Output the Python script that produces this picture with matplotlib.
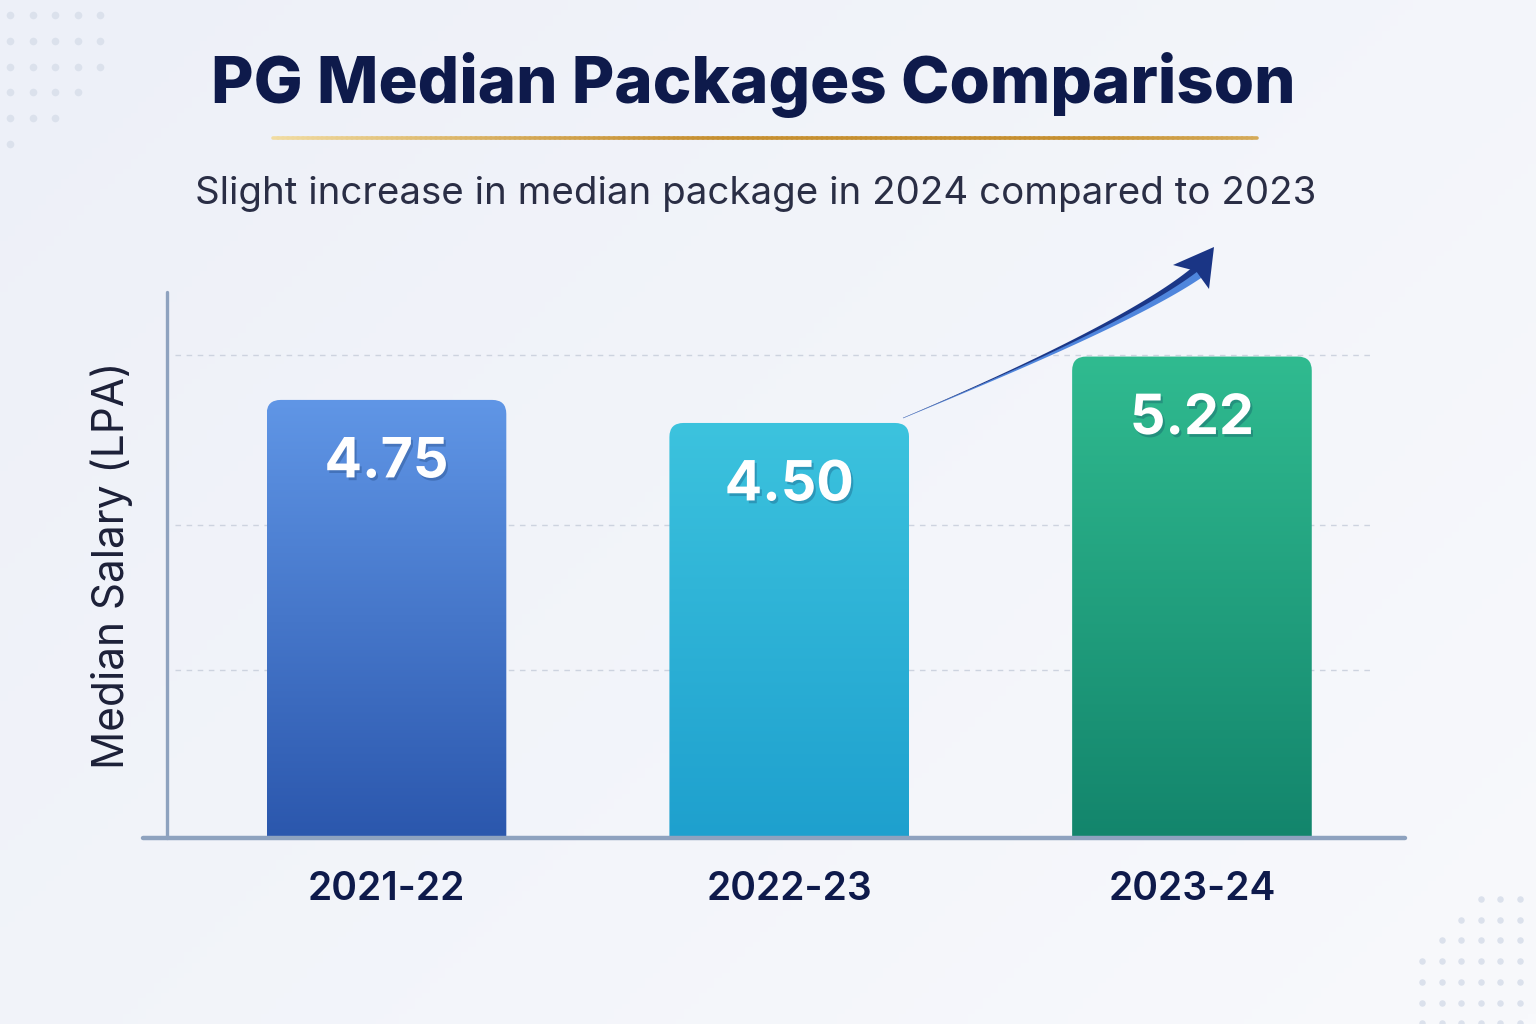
import numpy as np
import matplotlib.pyplot as plt
import matplotlib.patheffects as pe
from matplotlib.patches import FancyBboxPatch, Polygon
from matplotlib.colors import LinearSegmentedColormap, to_rgb
from matplotlib.collections import LineCollection

# data
years = ["2021-22", "2022-23", "2023-24"]
median_lpa = [4.75, 4.50, 5.22]
value_labels = ["4.75", "4.50", "5.22"]
grid_levels = [1.82, 3.39, 5.24]

top_colors = ["#6096e6", "#3cc3de", "#30bb90"]
bottom_colors = ["#2b57ad", "#1ea0ce", "#13856c"]

title = "PG Median Packages Comparison"
subtitle = "Slight increase in median package in 2024 compared to 2023"
ylabel = "Median Salary (LPA)"

plt.rcParams["font.family"] = ["Inter", "DejaVu Sans"]

W, H = 1536, 1024
fig = plt.figure(figsize=(W / 100, H / 100), dpi=100)

# background in pixel coords
bg = fig.add_axes([0, 0, 1, 1], zorder=0)
bg.set_xlim(0, W)
bg.set_ylim(H, 0)
bg.axis("off")
gx, gy = np.meshgrid(np.linspace(0, 1, 200), np.linspace(0, 1, 200))
bg_cmap = LinearSegmentedColormap.from_list("bg", ["#edf0f8", "#f8f9fc"])
bg.imshow((gx * 0.6 + gy * 0.4), extent=[0, W, H, 0], cmap=bg_cmap, aspect="auto", zorder=0)

# decorative dots
dot_color = "#dbe1ec"
for r, n in enumerate([5, 5, 5, 4, 3, 1]):
    bg.scatter([10 + 22.5 * i for i in range(n)], [15 + 25.8 * r] * n, s=30, color=dot_color, lw=0, zorder=1)
for r, start in enumerate([3, 2, 1, 0, 0, 0, 0]):
    xs = [1422 + 19.5 * i for i in range(start, 7)]
    bg.scatter(xs, [899 + 20.7 * r] * len(xs), s=22, color=dot_color, lw=0, zorder=1)

# gold rule under title
xs = np.linspace(273, 1257, 200)
segs = [[(xs[i], 138), (xs[i + 1], 138)] for i in range(len(xs) - 1)]
c0, c1 = np.array(to_rgb("#f1dca2")), np.array(to_rgb("#c68f30"))
t = np.linspace(0, 1, len(segs))
mix = np.clip(np.sin(t * np.pi * 0.8) * 1.1, 0, 1)
cols = [c0 * (1 - m) + c1 * m for m in mix]
bg.add_collection(LineCollection(segs, colors=cols, linewidths=2.6, capstyle="round", zorder=2))

# main axes
ax = fig.add_axes([143 / W, 1 - 838 / H, (1405 - 143) / W, (838 - 292) / H], zorder=1)
ax.set_facecolor("none")
for s in ax.spines.values():
    s.set_visible(False)

x = np.arange(len(years))
bars = ax.bar(x, median_lpa, width=0.595, color="none", zorder=2)
ax.hlines(grid_levels, -0.525, 2.442, colors="#cdd3df", linestyles=(0, (4, 4)), linewidth=1, zorder=1)

for b, top, bot in zip(bars, top_colors, bottom_colors):
    x0, w, h = b.get_x(), b.get_width(), b.get_height()
    patch = FancyBboxPatch((x0, -0.5), w, h + 0.5, boxstyle="round,pad=0,rounding_size=0.035",
                           mutation_aspect=4.33, facecolor="none", edgecolor="none")
    ax.add_patch(patch)
    cmap = LinearSegmentedColormap.from_list("bar", [bot, top])
    img = ax.imshow(np.linspace(0, 1, 256).reshape(-1, 1), extent=[x0, x0 + w, 0, h], origin="lower",
                    cmap=cmap, aspect="auto", zorder=2)
    img.set_clip_path(patch)

for xi, v, lbl in zip(x, median_lpa, value_labels):
    ax.annotate(lbl, (xi, v), xytext=(0, -45), textcoords="offset points", ha="center", va="center",
                color="white", fontsize=40, fontweight="bold", zorder=4,
                path_effects=[pe.withSimplePatchShadow(offset=(1.5, -2), shadow_rgbFace="#0b2a55", alpha=0.25)])

ax.set_xlim(-0.6046, 2.529)
ax.set_ylim(0, 5.92)

# axis lines
ax.plot([0, 1], [0, 0], transform=ax.transAxes, color="#8ea2bf", lw=3.2, solid_capstyle="round", clip_on=False, zorder=3)
ax.plot([0.019, 0.019], [0, 1], transform=ax.transAxes, color="#8ea2bf", lw=2.4, solid_capstyle="round", clip_on=False, zorder=3)

ax.set_xticks(x, years)
ax.set_yticks([])
ax.tick_params(axis="x", length=0, pad=24, labelsize=28, labelcolor="#0e1a4b")
for tl in ax.get_xticklabels():
    tl.set_fontweight("semibold")
ax.set_ylabel(ylabel, fontsize=30.5, color="#1c2038", labelpad=7)

fig.text(753 / W, 1 - 85 / H, title, ha="center", va="center", fontsize=47, fontweight="heavy", color="#0e1a4b")
fig.text(756 / W, 1 - 194 / H, subtitle, ha="center", va="center", fontsize=27.7, color="#2a2e45")

# trend arrow overlay
ov = fig.add_axes([0, 0, 1, 1], zorder=3)
ov.set_xlim(0, W)
ov.set_ylim(H, 0)
ov.axis("off")
p0, p1, p2 = np.array([903, 418]), np.array([1130, 322.5]), np.array([1197, 270])
u = np.linspace(0, 1, 80)[:, None]
pts = (1 - u) ** 2 * p0 + 2 * (1 - u) * u * p1 + u ** 2 * p2
tan = 2 * (1 - u) * (p1 - p0) + 2 * u * (p2 - p1)
tan = tan / np.linalg.norm(tan, axis=1, keepdims=True)
nrm = np.column_stack([-tan[:, 1], tan[:, 0]])
wid = (0.4 + 9.5 * u[:, 0] ** 1.3)[:, None]
# lighter underside strip, then dark upper body
light = np.vstack([pts, (pts + nrm * wid * 0.9)[::-1]])
ov.add_patch(Polygon(light, closed=True, color="#4f86dd", lw=0))
ov.add_patch(Polygon(np.vstack([pts - nrm * wid / 2, (pts + nrm * wid * 0.15)[::-1]]), closed=True, color="#1b3787", lw=0))
ov.add_patch(Polygon([[1214, 247], [1173, 265], [1196, 271], [1209, 289]], closed=True, color="#1a3585", lw=0))

fig.savefig("out.png", dpi=100)
